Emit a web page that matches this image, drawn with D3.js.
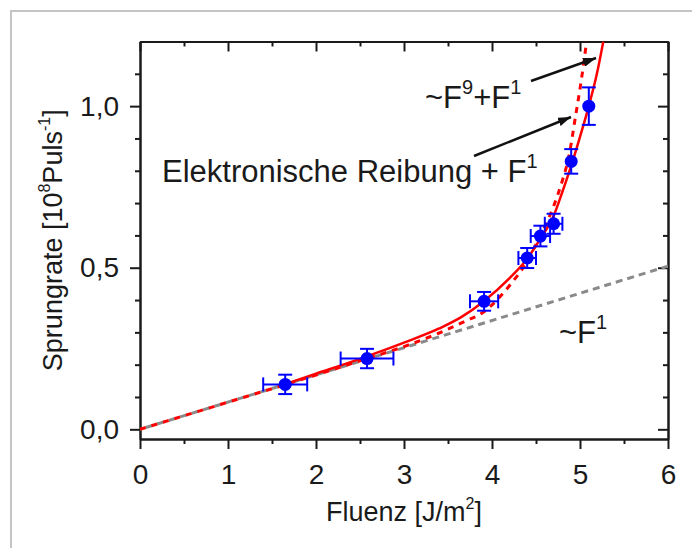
<!DOCTYPE html>
<html>
<head>
<meta charset="utf-8">
<script src="https://cdn.jsdelivr.net/npm/d3@7"></script>
<style>
  body { margin: 0; background: #fff; }
  text { font-family: Arial, "Liberation Sans", sans-serif; fill: #1a1a1a; }
  .axis path, .axis line { stroke: #1a1a1a; stroke-width: 2; }
</style>
</head>
<body>
<svg id="chart" width="692" height="548"></svg>
<script>

// measured jump rates with error bars
var fluenz    = [1.65, 2.58, 3.91, 4.40, 4.55, 4.70, 4.90, 5.10]
var rate      = [0.139, 0.219, 0.396, 0.530, 0.598, 0.636, 0.829, 1.000]
var fluenzErr = [0.25, 0.30, 0.16, 0.10, 0.11, 0.10, 0, 0]
var rateErr   = [0.030, 0.030, 0.029, 0.031, 0.032, 0.031, 0.038, 0.058]

// ~F^9 + F^1 (solid red)
var fitF9F = [1.65, 2.0, 2.5, 3.0, 3.4, 3.65, 3.9, 4.2, 4.4, 4.55, 4.7, 4.8, 4.92, 5.0, 5.1, 5.2, 5.265]
var fitF9Y = [0.140, 0.172, 0.218, 0.268, 0.312, 0.347, 0.395, 0.468, 0.528, 0.590, 0.660, 0.735, 0.833, 0.905, 1.0, 1.11, 1.20]

// elektronische Reibung + F^1 (dotted red)
var fitERF = [0, 1.0, 2.0, 2.5, 3.0, 3.4, 3.7, 3.9, 4.0, 4.2, 4.4, 4.55, 4.7, 4.8, 4.87, 4.95, 5.02, 5.075]
var fitERY = [0, 0.084, 0.168, 0.212, 0.256, 0.298, 0.335, 0.362, 0.385, 0.445, 0.520, 0.600, 0.690, 0.770, 0.840, 0.970, 1.090, 1.20]

// ~F^1 (grey dashed)
var linF = [0, 6]
var linY = [0, 0.505]

var xTicks = [0, 1, 2, 3, 4, 5, 6]
var xMinor = [0.5, 1.5, 2.5, 3.5, 4.5, 5.5]
var yTicks = [0, 0.5, 1.0]
var yMinor = [0.1, 0.2, 0.3, 0.4, 0.6, 0.7, 0.8, 0.9, 1.1]

var svg = d3.select("#chart")
var pLeft = 140, pRight = 668, pTop = 41.5, pBottom = 439

var x = d3.scaleLinear().domain([0, 6]).range([pLeft, pRight])
var y = d3.scaleLinear().domain([-0.03, 1.2]).range([pBottom, pTop])

// outer frame of the figure
svg.append("rect")
  .attr("x", 11).attr("y", 11).attr("width", 720).attr("height", 580)
  .attr("fill", "#fff").attr("stroke", "#c4c4c4").attr("stroke-width", 2)

var defs = svg.append("defs")
defs.append("clipPath").attr("id", "plotclip")
  .append("rect").attr("x", pLeft).attr("y", pTop)
  .attr("width", pRight - pLeft).attr("height", pBottom - pTop)

defs.append("marker")
  .attr("id", "arrow").attr("viewBox", "0 0 13 9")
  .attr("refX", 13).attr("refY", 4.5)
  .attr("markerWidth", 13).attr("markerHeight", 9)
  .attr("markerUnits", "userSpaceOnUse")
  .attr("orient", "auto")
  .append("path").attr("d", "M0,0L13,4.5L0,9Z").attr("fill", "#111")

// axes, major and minor ticks on all four sides
var comma = function(d) { return d3.format(".1f")(d).replace(".", ",") }

function addAxis(axis, tx, ty) {
  return svg.append("g").attr("class", "axis")
    .attr("transform", "translate(" + tx + "," + ty + ")")
    .call(axis)
}

var gb = addAxis(d3.axisBottom(x).tickValues(xTicks).tickSize(10).tickSizeOuter(0)
  .tickPadding(15).tickFormat(d3.format("d")), 0, pBottom)
addAxis(d3.axisBottom(x).tickValues(xMinor).tickSize(5).tickSizeOuter(0).tickFormat(""), 0, pBottom)
addAxis(d3.axisBottom(x).tickValues(xTicks).tickSize(10).tickSizeOuter(0).tickFormat(""), 0, pTop)
addAxis(d3.axisBottom(x).tickValues(xMinor).tickSize(5).tickSizeOuter(0).tickFormat(""), 0, pTop)

var gl = addAxis(d3.axisLeft(y).tickValues(yTicks).tickSize(10).tickSizeOuter(0)
  .tickPadding(11).tickFormat(comma), pLeft, 0)
addAxis(d3.axisLeft(y).tickValues(yMinor).tickSize(5).tickSizeOuter(0).tickFormat(""), pLeft, 0)
addAxis(d3.axisLeft(y).tickValues(yTicks).tickSize(10).tickSizeOuter(0).tickFormat(""), pRight, 0)
addAxis(d3.axisLeft(y).tickValues(yMinor).tickSize(5).tickSizeOuter(0).tickFormat(""), pRight, 0)

gb.selectAll("text").attr("font-size", 28).attr("font-family", null).attr("fill", null)
gl.selectAll("text").attr("font-size", 28).attr("font-family", null).attr("fill", null)

// axis titles
var xt = svg.append("text").attr("x", (pLeft + pRight) / 2).attr("y", 521)
  .attr("text-anchor", "middle").attr("font-size", 27)
xt.append("tspan").text("Fluenz [J/m")
xt.append("tspan").attr("font-size", 16).attr("dy", -12).text("2")
xt.append("tspan").attr("dy", 12).text("]")

var yt = svg.append("text")
  .attr("transform", "translate(62," + ((pTop + pBottom) / 2) + ") rotate(-90)")
  .attr("text-anchor", "middle").attr("font-size", 27)
yt.append("tspan").text("Sprungrate [10")
yt.append("tspan").attr("font-size", 16).attr("dy", -12).text("8")
yt.append("tspan").attr("dy", 12).text("Puls")
yt.append("tspan").attr("font-size", 16).attr("dy", -12).text("-1")
yt.append("tspan").attr("dy", 12).text("]")

// curves
var plot = svg.append("g").attr("clip-path", "url(#plotclip)")
var line = d3.line().x(function(d) { return x(d[0]) }).y(function(d) { return y(d[1]) })
var smooth = d3.line().curve(d3.curveMonotoneX)
  .x(function(d) { return x(d[0]) }).y(function(d) { return y(d[1]) })

plot.append("path").datum(d3.zip(linF, linY)).attr("d", line)
  .attr("fill", "none").attr("stroke", "#8a8a8a").attr("stroke-width", 3)
  .attr("stroke-dasharray", "7,5").attr("stroke-dashoffset", 6)

plot.append("path").datum(d3.zip(fitERF, fitERY)).attr("d", smooth)
  .attr("fill", "none").attr("stroke", "#ff0000").attr("stroke-width", 3)
  .attr("stroke-dasharray", "6,6")

plot.append("path").datum(d3.zip(fitF9F, fitF9Y)).attr("d", smooth)
  .attr("fill", "none").attr("stroke", "#ff0000").attr("stroke-width", 2.5)

// data points with error bars
var pts = d3.range(fluenz.length).map(function(i) {
  return { f: fluenz[i], r: rate[i], fe: fluenzErr[i], re: rateErr[i] }
})
var cap = 7
var eb = svg.append("g").attr("stroke", "#0000ff").attr("stroke-width", 2)
pts.forEach(function(p) {
  var cx = x(p.f), cy = y(p.r)
  var y0 = y(p.r - p.re), y1 = y(p.r + p.re)
  eb.append("line").attr("x1", cx).attr("x2", cx).attr("y1", y0).attr("y2", y1)
  eb.append("line").attr("x1", cx - cap).attr("x2", cx + cap).attr("y1", y0).attr("y2", y0)
  eb.append("line").attr("x1", cx - cap).attr("x2", cx + cap).attr("y1", y1).attr("y2", y1)
  if (p.fe > 0) {
    var x0 = x(p.f - p.fe), x1 = x(p.f + p.fe)
    eb.append("line").attr("x1", x0).attr("x2", x1).attr("y1", cy).attr("y2", cy)
    eb.append("line").attr("x1", x0).attr("x2", x0).attr("y1", cy - cap).attr("y2", cy + cap)
    eb.append("line").attr("x1", x1).attr("x2", x1).attr("y1", cy - cap).attr("y2", cy + cap)
  }
})
svg.append("g").selectAll("circle").data(pts).join("circle")
  .attr("cx", function(d) { return x(d.f) })
  .attr("cy", function(d) { return y(d.r) })
  .attr("r", 6.5).attr("fill", "#0000ff")

// annotations
function label(px, py, parts) {
  var t = svg.append("text").attr("x", px).attr("y", py).attr("font-size", 31)
  var up = false
  parts.forEach(function(p) {
    var s = t.append("tspan").text(p[0])
    if (p[1]) { s.attr("font-size", 20).attr("dy", -14); up = true }
    else if (up) { s.attr("dy", 14); up = false }
  })
}
label(425, 108, [["~F"], ["9", 1], ["+F"], ["1", 1]])
label(162, 182, [["Elektronische Reibung + F"], ["1", 1]])
label(559, 343, [["~F"], ["1", 1]])

svg.append("line").attr("x1", 531).attr("y1", 81).attr("x2", 596).attr("y2", 58)
  .attr("stroke", "#111").attr("stroke-width", 2.5).attr("marker-end", "url(#arrow)")
svg.append("line").attr("x1", 474).attr("y1", 156).attr("x2", 571).attr("y2", 117)
  .attr("stroke", "#111").attr("stroke-width", 2.5).attr("marker-end", "url(#arrow)")

</script>
</body>
</html>
